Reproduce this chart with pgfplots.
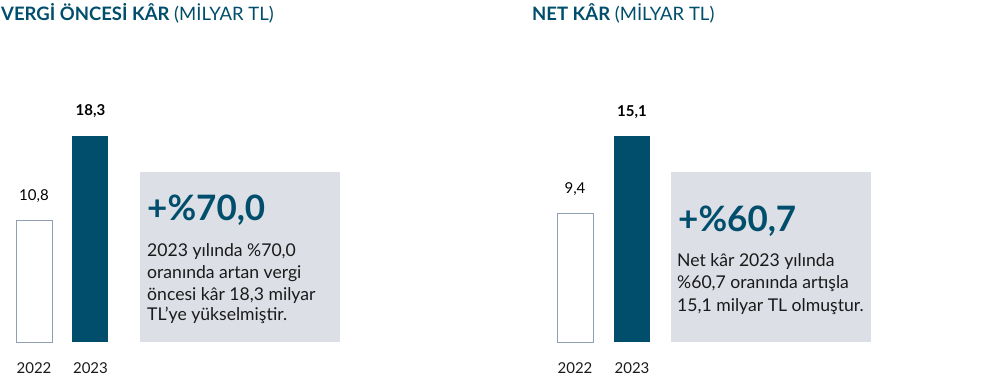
\documentclass[border=0pt]{standalone}
\usepackage{fontspec}
\setmainfont{Lato}
\usepackage{pgfplots}
\pgfplotsset{compat=1.18}
\definecolor{kteal}{HTML}{004E6B}
\definecolor{boxgray}{HTML}{DCDFE6}
\definecolor{outl}{HTML}{8FA0B5}
\definecolor{bodytxt}{HTML}{1A1A1A}
\pgfplotsset{
  myaxis/.style={
    scale only axis, width=113pt, height=206pt,
    xmin=-0.5, xmax=1.5, ymin=0,
    axis line style={draw=none}, major tick style={draw=none},
    ytick=\empty, xtick={0,1}, xticklabels={2022,2023},
    xticklabel style={anchor=base, yshift=-27.7pt, font=\fontsize{15}{17}\selectfont, text=bodytxt},
    ybar, bar width=36pt, bar shift=0pt, clip=false,
    nodes near coords,
    every node near coord/.append style={anchor=base, yshift=20pt, font=\fontsize{15}{17}\selectfont, text=black},
    /pgf/number format/.cd, use comma, fixed, fixed zerofill, precision=1, assume math mode=true,
  }
}
\begin{document}
\begin{tikzpicture}[x=1pt,y=1pt]
\useasboundingbox (0,0) rectangle (1001,378);
\fill[boxgray] (140,36) rectangle (340,206);
\fill[boxgray] (671,36) rectangle (871,206);
% titles
\node[anchor=base west, inner sep=0, text=kteal, font=\fontsize{18.5}{20}\selectfont] at (1,357.3) {\textbf{VERGİ ÖNCESİ KÂR} (MİLYAR TL)};
\node[anchor=base west, inner sep=0, text=kteal, font=\fontsize{18.5}{20}\selectfont] at (532,357.3) {\textbf{NET KÂR} (MİLYAR TL)};
% left axis
\begin{axis}[myaxis, at={(5.75pt,36pt)}, anchor=south west, ymax=18.3]
\addplot[fill=white, draw=outl, line width=0.9pt] coordinates {(0,10.8)};
\addplot[fill=kteal, draw=none, every node near coord/.append style={font=\fontsize{15}{17}\selectfont\bfseries}] coordinates {(1,18.3)};
\end{axis}
% right axis
\begin{axis}[myaxis, at={(546.5pt,36pt)}, anchor=south west, width=114pt, ymax=15.1]
\addplot[fill=white, draw=outl, line width=0.9pt] coordinates {(0,9.4)};
\addplot[fill=kteal, draw=none, every node near coord/.append style={font=\fontsize{15}{17}\selectfont\bfseries}] coordinates {(1,15.1)};
\end{axis}
% left box text
\node[anchor=base west, inner sep=0, text=kteal, font=\fontsize{35}{37}\selectfont\bfseries] at (147,157.3) {+\%70,0};
\begin{scope}[every node/.style={anchor=base west, inner sep=0, text=bodytxt, font=\fontsize{17.6}{20}\selectfont}]
\node at (147,121.3) {2023 yılında \%70,0};
\node at (147,99.7) {oranında artan vergi};
\node at (147,78.0) {öncesi kâr 18,3 milyar};
\node at (147,57.3) {TL’ye yükselmiştir.};
\node at (677,111.3) {Net kâr 2023 yılında};
\node at (677,89.7) {\%60,7 oranında artışla};
\node at (677,66.3) {15,1 milyar TL olmuştur.};
\end{scope}
\node[anchor=base west, inner sep=0, text=kteal, font=\fontsize{35}{37}\selectfont\bfseries] at (678,146.3) {+\%60,7};
\end{tikzpicture}
\end{document}
